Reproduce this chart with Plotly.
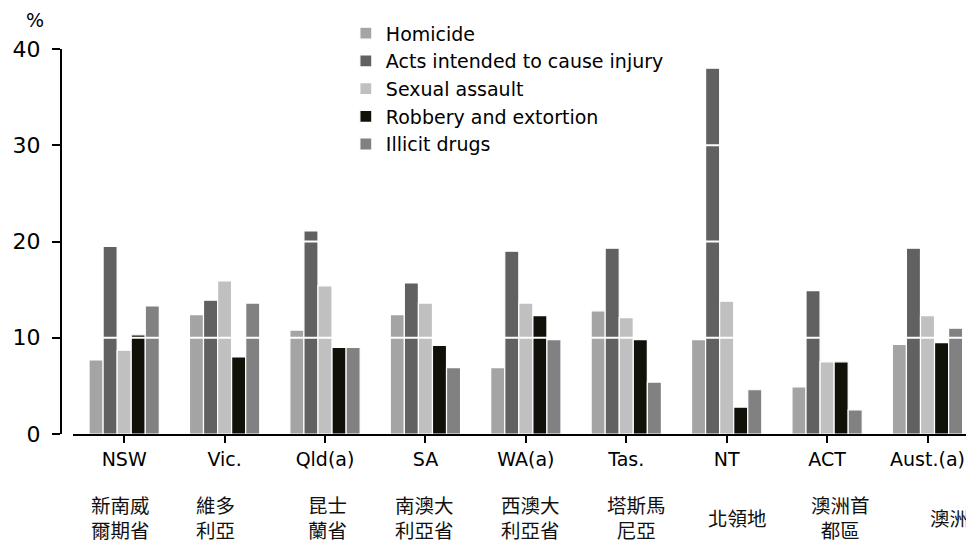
import plotly.graph_objects as go

categories = ["NSW", "Vic.", "Qld(a)", "SA", "WA(a)", "Tas.", "NT", "ACT", "Aust.(a)"]
zh_labels = ["新南威<br>爾期省", "維多<br>利亞", "昆士<br>蘭省", "南澳大<br>利亞省", "西澳大<br>利亞省",
             "塔斯馬<br>尼亞", "北領地", "澳洲首<br>都區", "澳洲"]

homicide = [7.7, 12.4, 10.8, 12.4, 6.9, 12.8, 9.8, 4.9, 9.3]
acts_injury = [19.5, 13.9, 21.1, 15.7, 19.0, 19.3, 38.0, 14.9, 19.3]
sexual_assault = [8.7, 15.9, 15.4, 13.6, 13.6, 12.1, 13.8, 7.5, 12.3]
robbery = [10.3, 8.0, 9.0, 9.2, 12.3, 9.8, 2.8, 7.5, 9.5]
illicit_drugs = [13.3, 13.6, 9.0, 6.9, 9.8, 5.4, 4.6, 2.5, 11.0]

series_names = ["Homicide", "Acts intended to cause injury", "Sexual assault",
                "Robbery and extortion", "Illicit drugs"]
series_values = [homicide, acts_injury, sexual_assault, robbery, illicit_drugs]
series_colors = ["#a4a4a4", "#616161", "#c0c0c0", "#11110a", "#818181"]

y_ticks = [0, 10, 20, 30, 40]

# layout-only tweaks for the Chinese label row
zh_shift = [-4, -9, 2, -1, 5, 10, 11, 13, 22]

fig = go.Figure()
for name, vals, col in zip(series_names, series_values, series_colors):
    fig.add_trace(go.Bar(
        x=categories, y=vals, name=name,
        marker=dict(color=col, line=dict(color="white", width=1.2)),
    ))

# white gridlines drawn over the bars
for t in y_ticks[1:4]:
    fig.add_shape(type="line", xref="x domain", yref="y", x0=0, x1=1, y0=t, y1=t,
                  line=dict(color="white", width=2), layer="above")

for lab, cat, dx in zip(zh_labels, categories, zh_shift):
    fig.add_annotation(x=cat, xref="x", y=-0.216, yref="paper", text=lab,
                       showarrow=False, xshift=dx, yanchor="middle", xanchor="center",
                       font=dict(family="Noto Sans CJK TC", size=19.5, color="#111"))

fig.add_annotation(x=-0.028, xref="paper", y=1.075, yref="paper", text="%",
                   showarrow=False, xanchor="center", yanchor="middle",
                   font=dict(family="DejaVu Sans", size=19, color="black"))

fig.update_layout(
    width=966, height=536,
    margin=dict(l=53, r=0, t=41, b=110, autoexpand=False),
    paper_bgcolor="white", plot_bgcolor="white",
    barmode="group", bargap=0.3, bargroupgap=0.0,
    font=dict(family="DejaVu Sans", color="black"),
    showlegend=True,
    legend=dict(x=0.312, y=1.09, xanchor="left", yanchor="top",
                bgcolor="rgba(0,0,0,0)", font=dict(size=19, family="DejaVu Sans"),
                traceorder="normal"),
    xaxis=dict(domain=[0.013, 1], range=[-0.511, 8.463], showline=True, linecolor="black",
               linewidth=2, ticks="outside", ticklen=7, tickwidth=2, tickcolor="black",
               showgrid=False, tickfont=dict(size=19, family="DejaVu Sans"), anchor="y",
               automargin=False),
    yaxis=dict(range=[0, 40], tickvals=y_ticks, showline=True, linecolor="black",
               linewidth=2, ticks="outside", ticklen=8, tickwidth=2, tickcolor="black",
               showgrid=False, zeroline=False, anchor="free", position=0,
               tickfont=dict(size=22, family="DejaVu Sans"), ticklabelstandoff=7,
               automargin=False),
)

fig.write_html("out.html")
